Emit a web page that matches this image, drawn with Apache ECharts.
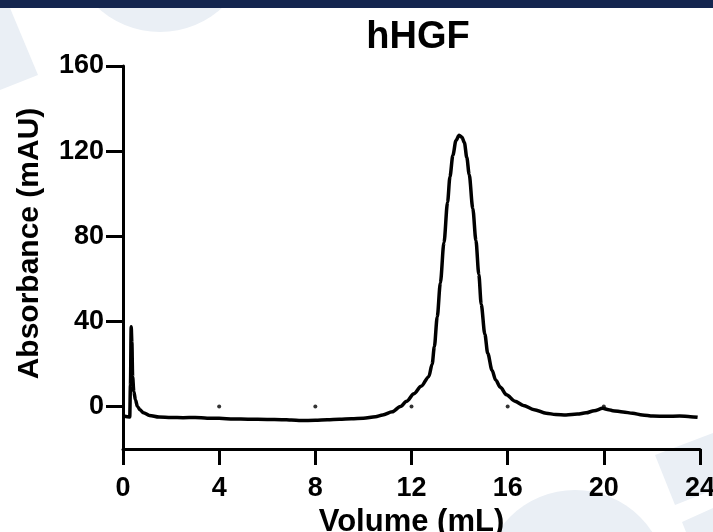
<!DOCTYPE html>
<html>
<head>
<meta charset="utf-8">
<style>
  html, body { margin: 0; padding: 0; background: #fff; }
  #chart { width: 713px; height: 532px; }
</style>
<script src="https://cdn.jsdelivr.net/npm/echarts@6/dist/echarts.min.js"></script>
</head>
<body>
<div id="chart"></div>
<script>
// chromatogram trace (mL, mAU)
const volume = [
  0.02, 0.28, 0.31, 0.34, 0.37, 0.4, 0.45, 0.52, 0.6, 0.7, 0.85, 1.1, 1.5, 2.0, 2.5, 3.0, 3.5,
  4.0, 4.6, 5.2, 6.0, 6.6, 7.0, 7.4, 8.0, 8.5, 9.0, 9.5, 10.0, 10.5, 10.8, 11.2, 11.54, 11.8,
  12.1, 12.4, 12.72, 12.86, 12.95, 13.07, 13.2, 13.35, 13.5, 13.6, 13.72, 13.85, 13.98, 14.1,
  14.2, 14.3, 14.4, 14.55, 14.68, 14.8, 14.9, 15.05, 15.17, 15.35, 15.5, 15.7, 15.95, 16.3,
  16.65, 17.1, 17.6, 18.0, 18.43, 18.9, 19.26, 19.6, 19.95, 20.2, 20.37, 20.8, 21.2, 21.6,
  22.04, 22.6, 23.15, 23.6, 23.9
];
const absorbance = [
  -4.5, -5, 10, 37.5, 30, 14, 7, 3, 0, -1.5, -3, -4.2, -5, -5.2, -5.3, -5.2, -5.5,
  -5.6, -5.9, -6, -6.1, -6.2, -6.4, -6.6, -6.5, -6.2, -6, -5.8, -5.5, -4.8, -4, -2.5, 0, 2.5,
  6, 9.5, 14, 20, 28, 42, 58, 77, 96, 108, 118, 125, 127.5, 126.5,
  124, 117, 109, 93, 78, 62, 48, 34, 25, 17, 12.4, 9, 5.5, 2.5,
  0.5, -1.5, -3.2, -3.8, -4, -3.6, -3, -2, -0.9, -1.5, -2, -2.6, -3.2, -4,
  -4.5, -4.6, -4.5, -4.8, -5.1
];
// small fraction dots sitting on the zero line
const markVolume = [4, 8, 12, 16, 20];
const markValue = [0, 0, 0, 0, 0];
const yTicks = [0, 40, 80, 120, 160];

const trace = volume.map((v, i) => [v, absorbance[i]]);
const marks = markVolume.map((v, i) => [v, markValue[i]]);

const chart = echarts.init(document.getElementById('chart'));
const font = 'Liberation Sans, Arial, sans-serif';
const light = '#eaeff5';

const option = {
  backgroundColor: '#fff',
  animation: false,
  graphic: [
    { type: 'rect', z: -10, shape: { x: 0, y: 0, width: 713, height: 8 }, style: { fill: '#14264f' } },
    { type: 'circle', z: -11, shape: { cx: 160, cy: -60, r: 92 }, style: { fill: light } },
    { type: 'polygon', z: -11, shape: { points: [[0, 8], [10, 8], [38, 75], [0, 90]] }, style: { fill: light } },
    { type: 'circle', z: -11, shape: { cx: 575, cy: 582, r: 92 }, style: { fill: light } },
    { type: 'polygon', z: -11, shape: { points: [[655, 455], [713, 433], [713, 490], [675, 505]] }, style: { fill: light } },
    { type: 'polygon', z: -11, shape: { points: [[682, 522], [713, 508], [713, 532], [686, 532]] }, style: { fill: light } }
  ],
  title: {
    text: 'hHGF',
    left: 413,
    top: 14,
    textAlign: 'center',
    textStyle: { fontFamily: font, fontWeight: 'bold', fontSize: 38, color: '#000' }
  },
  grid: { left: 123, right: 13, top: 66, bottom: 83, containLabel: false, outerBoundsMode: 'none' },
  xAxis: {
    type: 'value',
    min: 0,
    max: 24,
    interval: 4,
    name: 'Volume (mL)',
    nameLocation: 'middle',
    nameGap: 52,
    nameTextStyle: { fontFamily: font, fontWeight: 'bold', fontSize: 31, color: '#000' },
    splitLine: { show: false },
    axisLine: { show: true, onZero: false, lineStyle: { color: '#000', width: 3 } },
    axisTick: { show: true, length: 16, lineStyle: { color: '#000', width: 3 } },
    axisLabel: { margin: 26, fontFamily: font, fontWeight: 'bold', fontSize: 27, color: '#000' }
  },
  yAxis: {
    type: 'value',
    min: -20,
    max: 160,
    name: 'Absorbance (mAU)',
    nameLocation: 'middle',
    nameGap: 78,
    nameTextStyle: { fontFamily: font, fontWeight: 'bold', fontSize: 30, color: '#000', padding: [0, 0, 0, 28] },
    splitLine: { show: false },
    axisLine: { show: true, onZero: false, lineStyle: { color: '#000', width: 3 } },
    axisTick: { show: true, length: 17, customValues: yTicks, lineStyle: { color: '#000', width: 3 } },
    axisLabel: { margin: 19, customValues: yTicks, fontFamily: font, fontWeight: 'bold', fontSize: 27, color: '#000' }
  },
  series: [
    {
      type: 'line',
      data: trace,
      showSymbol: false,
      smooth: 0.3,
      smoothMonotone: 'x',
      lineStyle: { color: '#000', width: 3.5 },
      z: 3
    },
    {
      type: 'scatter',
      data: marks,
      symbolSize: 4,
      itemStyle: { color: '#000' },
      z: 3
    }
  ]
};

chart.setOption(option);
</script>
</body>
</html>
